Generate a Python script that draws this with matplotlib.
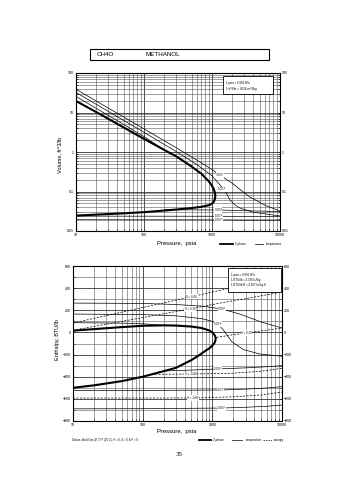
import matplotlib
matplotlib.use("Agg")
import matplotlib.pyplot as plt
from matplotlib.ticker import LogLocator, FixedLocator, FixedFormatter, NullFormatter, MultipleLocator
from matplotlib.patches import Rectangle
from matplotlib.lines import Line2D

plt.rcParams['font.family'] = ['Liberation Sans', 'DejaVu Sans']

# ---------------- Volume chart data ----------------
vap_P = [10, 20, 50, 100, 200, 300, 500, 700, 900, 1000, 1060, 1100, 1120]
vap_V = [19.5, 10.2, 4.2, 2.15, 1.12, 0.77, 0.43, 0.28, 0.18, 0.14, 0.115, 0.095, 0.078]
liq_P = [1120, 1100, 1060, 1000, 900, 700, 500, 300, 200, 100, 50, 20, 10]
liq_V = [0.078, 0.063, 0.055, 0.049, 0.045, 0.041, 0.038, 0.035, 0.033, 0.030, 0.028, 0.026, 0.0245]

t700_P = [10, 100, 300, 700, 1000, 1320, 2000, 3500, 6000, 10000]
t700_V = [38.8, 3.85, 1.27, 0.53, 0.36, 0.26, 0.16, 0.075, 0.045, 0.032]
t500_P = [10, 100, 300, 600, 1000, 1390, 1600, 1830, 2200, 2600, 4000, 10000]
t500_V = [32.2, 3.15, 1.02, 0.48, 0.25, 0.13, 0.095, 0.062, 0.045, 0.038, 0.030, 0.024]
t300v_P = [10, 50, 100, 200]
t300v_V = [25.5, 5.0, 2.45, 1.12]
t300l_P = [200, 1240, 10000]
t300l_V = [0.0345, 0.034, 0.031]
t100_P = [10, 1240, 10000]
t100_V = [0.0238, 0.0236, 0.0230]
tm100_P = [10, 1240, 10000]
tm100_V = [0.0190, 0.0188, 0.0183]

vlab_text = ["700 F", "500 F", "300 F", "100 F", "-100 F"]
vlab_P = [1312, 1390, 1238, 1238, 1238]
vlab_V = [0.262, 0.114, 0.034, 0.0236, 0.0188]

vol_ticks = [0.01, 0.1, 1, 10, 100]
vol_ticklabels = ["0.01", "0.1", "1", "10", "100"]
p_ticks = [10, 100, 1000, 10000]
p_ticklabels = ["10", "100", "1000", "10000"]

# ---------------- Enthalpy chart data ----------------
hvap_P = [10, 20, 50, 100, 200, 300, 500, 700, 900, 1000, 1060, 1100, 1120]
hvap_H = [16, 30, 48, 60, 64, 62, 53, 40, 18, 0, -18, -35, -53]
hliq_P = [1120, 1100, 1060, 1000, 900, 800, 650, 500, 300, 200, 100, 50, 20, 10]
hliq_H = [-53, -80, -100, -120, -145, -165, -205, -250, -320, -350, -400, -440, -478, -500]

h700_P = [10, 100, 300, 700, 1373, 2500, 5000, 10000]
h700_H = [265, 262, 252, 238, 212, 165, 95, 40]
h500_P = [10, 100, 300, 700, 1000, 1202, 1450, 1900, 2800, 4800, 10000]
h500_H = [166, 161, 150, 125, 100, 76, 20, -84, -155, -195, -215]
h300v_P = [10, 50, 100, 200]
h300v_H = [88, 84, 78, 64]
h300l_P = [200, 500, 1202, 3000, 6000, 10000]
h300l_H = [-348, -340, -330, -320, -310, -300]
h100_P = [10, 100, 1285, 3000, 6000, 10000]
h100_H = [-525, -524, -520, -512, -502, -490]
hm100_P = [10, 100, 1359, 3000, 6000, 10000]
hm100_H = [-690, -689, -683, -676, -667, -656]

s040_P = [10, 100, 505, 1300, 10000]
s040_H = [85, 225, 323, 381, 505]
s030_P = [10, 100, 477, 1280, 3000, 10000]
s030_H = [20, 134, 212, 265, 305, 365]
s020_P = [1150, 2000, 3105, 6000, 10000]
s020_H = [-45, -20, -5, 20, 40]
sm040_P = [150, 489, 2000, 5000, 10000]
sm040_H = [-378, -376, -368, -351, -324]
sm080_P = [10, 527, 2000, 5000, 10000]
sm080_H = [-593, -592, -582, -565, -538]

hlab_text = ["700 F", "500 F", "300 F", "100 F", "-100 F",
             "S = 0.40", "S = 0.30", "S = 0.20", "S = -0.40", "S = -0.80"]
hlab_P = [1373, 1202, 1202, 1285, 1359, 505, 477, 3105, 489, 527]
hlab_H = [212, 76, -330, -520, -683, 323, 212, -5, -376, -592]

h_ticks = [-800, -600, -400, -200, 0, 200, 400, 600]

W, H = 355, 480
fig = plt.figure(figsize=(W / 100, H / 100), dpi=100)
fig.patch.set_facecolor('white')

def px_axes(l, t, r, b):
    return [l / W, 1 - b / H, (r - l) / W, (b - t) / H]

THICK = 1.5
THIN = 0.5
DASH = (0, (3, 2))
GRIDC = '#555555'
TFS = 2.6

def style_logx(ax):
    ax.set_xscale('log')
    ax.set_xlim(10, 10000)
    ax.xaxis.set_major_locator(FixedLocator(p_ticks))
    ax.xaxis.set_major_formatter(FixedFormatter(p_ticklabels))
    ax.xaxis.set_minor_locator(LogLocator(base=10, subs=range(2, 10), numticks=20))
    ax.xaxis.set_minor_formatter(NullFormatter())
    ax.grid(which='major', color='#333333', lw=0.6)
    ax.grid(which='minor', color=GRIDC, lw=0.4)
    ax.tick_params(which='both', direction='in', labelsize=TFS, pad=1.5,
                   right=True, top=False, labelright=True, length=1.5, width=0.4)
    for s in ax.spines.values():
        s.set_linewidth(0.8)

# ---------------- Title box ----------------
fig.patches.append(Rectangle((90 / W, 1 - 60 / H), 179 / W, 11 / H, transform=fig.transFigure,
                             fill=False, lw=0.8, edgecolor='black'))
fig.text(97 / W, 1 - 54.5 / H, "CH4O", fontsize=4.5, va='center', ha='left')
fig.text(145 / W, 1 - 54.5 / H, "METHANOL", fontsize=4.5, va='center', ha='left')

# ---------------- Volume chart ----------------
ax1 = fig.add_axes(px_axes(76, 73, 280, 231))
style_logx(ax1)
ax1.set_yscale('log')
ax1.set_ylim(0.01, 100)
ax1.yaxis.set_major_locator(FixedLocator(vol_ticks))
ax1.yaxis.set_major_formatter(FixedFormatter(vol_ticklabels))
ax1.yaxis.set_minor_locator(LogLocator(base=10, subs=range(2, 10), numticks=20))
ax1.yaxis.set_minor_formatter(NullFormatter())

ax1.plot(vap_P + liq_P[1:], vap_V + liq_V[1:], color='black', lw=THICK, zorder=3)
for P_, V_ in [(t700_P, t700_V), (t500_P, t500_V), (t300v_P, t300v_V),
               (t300l_P, t300l_V), (t100_P, t100_V), (tm100_P, tm100_V)]:
    ax1.plot(P_, V_, color='black', lw=THIN, zorder=3)
for txt, p, v in zip(vlab_text, vlab_P, vlab_V):
    ax1.text(p, v, txt, fontsize=2.0, ha='center', va='center', zorder=4,
             bbox=dict(facecolor='white', edgecolor='none', pad=0.4))

# conversion box
ax1.add_patch(Rectangle((0.722, 0.865), 0.242, 0.116, transform=ax1.transAxes,
                        facecolor='white', edgecolor='black', lw=0.6, zorder=5))
ax1.text(0.735, 0.935, "1 psia = 6.895 kPa", transform=ax1.transAxes, fontsize=2.1,
         va='center', zorder=6)
ax1.text(0.735, 0.897, "1 ft^3/lb = .0624 m^3/kg", transform=ax1.transAxes, fontsize=2.1,
         va='center', zorder=6)

fig.text(60 / W, 1 - 155 / H, "Volume, ft^3/lb", rotation=90, fontsize=4,
         ha='center', va='center')
fig.text(176.7 / W, 1 - 244 / H, "Pressure,  psia", fontsize=4.2, ha='center', va='center')

# top legend
fig.add_artist(Line2D([220 / W, 233 / W], [1 - 244.3 / H] * 2, color='black', lw=1.3))
fig.text(235 / W, 1 - 244.3 / H, "2 phase", fontsize=2.2, va='center')
fig.add_artist(Line2D([255 / W, 263 / W], [1 - 244.3 / H] * 2, color='black', lw=0.5))
fig.text(266 / W, 1 - 244.3 / H, "temperature", fontsize=2.2, va='center')

# ---------------- Enthalpy chart ----------------
ax2 = fig.add_axes(px_axes(73, 266, 282, 421))
style_logx(ax2)
ax2.set_ylim(-800, 600)
ax2.yaxis.set_major_locator(FixedLocator(h_ticks))
ax2.yaxis.set_minor_locator(MultipleLocator(100))

ax2.plot(hvap_P + hliq_P[1:], hvap_H + hliq_H[1:], color='black', lw=THICK, zorder=3)
for P_, H_ in [(h700_P, h700_H), (h500_P, h500_H), (h300v_P, h300v_H),
               (h300l_P, h300l_H), (h100_P, h100_H), (hm100_P, hm100_H)]:
    ax2.plot(P_, H_, color='black', lw=THIN, zorder=3)
for P_, H_ in [(s040_P, s040_H), (s030_P, s030_H), (s020_P, s020_H),
               (sm040_P, sm040_H), (sm080_P, sm080_H)]:
    ax2.plot(P_, H_, color='black', lw=THIN, ls=DASH, zorder=3)
for txt, p, h in zip(hlab_text, hlab_P, hlab_H):
    ax2.text(p, h, txt, fontsize=2.0, ha='center', va='center', zorder=4,
             bbox=dict(facecolor='white', edgecolor='none', pad=0.4))

ax2.add_patch(Rectangle((0.743, 0.834), 0.252, 0.151, transform=ax2.transAxes,
                        facecolor='white', edgecolor='black', lw=0.6, zorder=5))
for yy, t in zip([0.942, 0.910, 0.877],
                 ["1 psia = 6.895 kPa", "1 BTU/lb = 2.326 kJ/kg", "1 BTU/lb R = 4.187 kJ/kg K"]):
    ax2.text(0.755, yy, t, transform=ax2.transAxes, fontsize=2.1, va='center', zorder=6)

fig.text(57 / W, 1 - 340 / H, "Enthalpy, BTU/lb", rotation=90, fontsize=4,
         ha='center', va='center')
fig.text(176.7 / W, 1 - 431.7 / H, "Pressure,  psia", fontsize=4.2, ha='center', va='center')

# footer
fig.text(72 / W, 1 - 440 / H, "Datum: Ideal Gas @ 77 F (25 C), H = 0, S = 0 & P = 0",
         fontsize=2.0, va='center')
fig.add_artist(Line2D([199 / W, 211 / W], [1 - 440 / H] * 2, color='black', lw=1.3))
fig.text(213 / W, 1 - 440 / H, "2 phase", fontsize=2.2, va='center')
fig.add_artist(Line2D([232 / W, 242 / W], [1 - 440 / H] * 2, color='black', lw=0.5))
fig.text(246 / W, 1 - 440 / H, "temperature", fontsize=2.2, va='center')
fig.add_artist(Line2D([263 / W, 272 / W], [1 - 440 / H] * 2, color='black', lw=0.5, ls=(0, (2, 1.5))))
fig.text(274 / W, 1 - 440 / H, "entropy", fontsize=2.2, va='center')

fig.text(179 / W, 1 - 454.3 / H, "35", fontsize=5, ha='center', va='center',
         family=['Liberation Serif', 'DejaVu Serif'])

fig.savefig("out.png", dpi=100, facecolor='white')
